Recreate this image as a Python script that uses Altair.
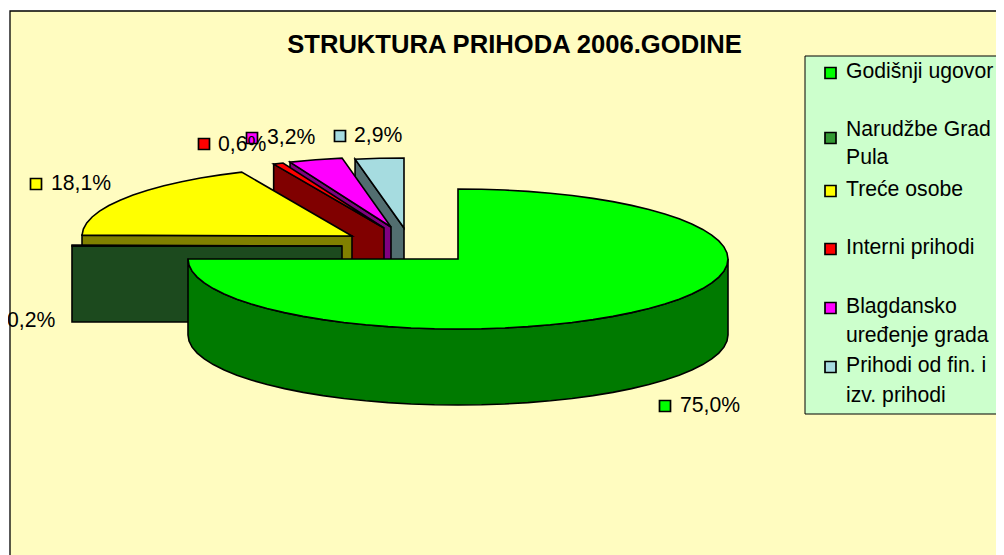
import math
import altair as alt
import pandas as pd

# ---- data ----
CATEGORIES = ["Godišnji ugovor", "Narudžbe Grad Pula", "Treće osobe", "Interni prihodi",
              "Blagdansko uređenje grada", "Prihodi od fin. i izv. prihodi"]
SHARES = [75.0, 0.2, 18.1, 0.6, 3.2, 2.9]
PERCENT_LABELS = ["75,0%", "0,2%", "18,1%", "0,6%", "3,2%", "2,9%"]
TITLE = "STRUKTURA PRIHODA 2006.GODINE"
LEGEND_LINES = [["Godišnji ugovor"], ["Narudžbe Grad", "Pula"], ["Treće osobe"],
                ["Interni prihodi"], ["Blagdansko", "uređenje grada"], ["Prihodi od fin. i", "izv. prihodi"]]

# ---- styles ----
TOP_COLORS = ["#00FF00", "#339933", "#FFFF00", "#FF0000", "#FF00FF", "#A6DCE0"]
SIDE_COLORS = ["#007A00", "#1C4A1E", "#808000", "#800000", "#800080", "#526E70"]
LEGEND_COLORS = TOP_COLORS
PANEL = "#FFFCC0"
LEGEND_BG = "#CCFFCC"
FONT = "Liberation Sans"

# ---- layout (page pixels) ----
W, H = 988, 547
XS = alt.Scale(domain=[8, 996], range=[0, W], nice=False, zero=False)
YS = alt.Scale(domain=[555, 8], range=[H, 0], nice=False, zero=False)
RX, RY, DEPTH = 270, 70, 76
APEX = [(458, 259), (342, 246), (352, 236), (384, 228), (391, 227), (404, 228)]
DRAW_ORDER = [5, 4, 3, 2, 1, 0]
LABEL_MARK = [(665, 406), (-20, 320), (36, 184), (204, 144), (252, 138), (340, 136)]
LABEL_TEXT = [(680, 406), (7, 321), (51, 184), (218, 145), (267, 138), (354, 136)]
LEGEND_MARK_Y = [73, 138, 191, 249, 308, 367]
LEGEND_TEXT_Y = [[72], [130, 158], [190], [248], [307, 336], [366, 396]]


def xy(i, deg, dy=0):
    ax, ay = APEX[i]
    a = math.radians(deg)
    return ax + RX * math.sin(a), ay - RY * math.cos(a) + dy


def arc(i, a0, a1, step=5.0, dy=0):
    n = max(1, int(abs(a1 - a0) / step))
    return [xy(i, a0 + (a1 - a0) * k / n, dy) for k in range(n + 1)]


def poly(points, fill):
    df = pd.DataFrame(points, columns=["x", "y"])
    df["i"] = range(len(df))
    return alt.Chart(df).mark_line(
        fill=fill, stroke="black", strokeWidth=1.6, interpolate="linear-closed", strokeJoin="miter"
    ).encode(
        x=alt.X("x:Q", scale=XS, axis=None),
        y=alt.Y("y:Q", scale=YS, axis=None),
        order="i:Q",
    )


layers = []

panel = pd.DataFrame({"x": [10], "x2": [1020], "y": [11], "y2": [570]})
layers.append(alt.Chart(panel).mark_rect(fill=PANEL, stroke="black", strokeWidth=1.3, clip=True).encode(
    x=alt.X("x:Q", scale=XS, axis=None), x2="x2:Q",
    y=alt.Y("y:Q", scale=YS, axis=None), y2="y2:Q"))

# slice angles come from the shares
starts, acc = [], 0.0
for s in SHARES:
    starts.append(acc)
    acc += s * 3.6

for i in DRAW_ORDER:
    a0, a1 = starts[i], starts[i] + SHARES[i] * 3.6
    ax, ay = APEX[i]
    if i == 0:
        # outer wall of the large slice, facing the viewer
        top = arc(i, 90, 270)
        bottom = arc(i, 90, 270, dy=DEPTH)
        layers.append(poly(top + bottom[::-1], SIDE_COLORS[i]))
    else:
        # cut face that looks towards the viewer
        p0 = xy(i, a0)
        layers.append(poly([p0, (ax, ay), (ax, ay + DEPTH), (p0[0], p0[1] + DEPTH)], SIDE_COLORS[i]))
    layers.append(poly([(ax, ay)] + arc(i, a0, a1), TOP_COLORS[i]))

# legend box
legend_box = pd.DataFrame({"x": [805], "x2": [1020], "y": [56], "y2": [414]})
layers.append(alt.Chart(legend_box).mark_rect(fill=LEGEND_BG, stroke="black", strokeWidth=1, clip=True).encode(
    x=alt.X("x:Q", scale=XS, axis=None), x2="x2:Q",
    y=alt.Y("y:Q", scale=YS, axis=None), y2="y2:Q"))

legend_marks = pd.DataFrame({"x": [830.5] * 6, "y": LEGEND_MARK_Y, "c": LEGEND_COLORS})
layers.append(alt.Chart(legend_marks).mark_point(shape="square", filled=True, size=121, stroke="black",
                                                 strokeWidth=1.7, opacity=1, clip=True).encode(
    x=alt.X("x:Q", scale=XS, axis=None), y=alt.Y("y:Q", scale=YS, axis=None),
    fill=alt.Fill("c:N", scale=None)))

rows = []
for lines, ys in zip(LEGEND_LINES, LEGEND_TEXT_Y):
    for t, y in zip(lines, ys):
        rows.append({"x": 846, "y": y, "t": t})
layers.append(alt.Chart(pd.DataFrame(rows)).mark_text(align="left", baseline="middle", font=FONT, fontSize=21.2,
                                                     color="black").encode(
    x=alt.X("x:Q", scale=XS, axis=None), y=alt.Y("y:Q", scale=YS, axis=None), text="t:N"))

# data labels with their colour keys
label_marks = pd.DataFrame({"x": [p[0] for p in LABEL_MARK], "y": [p[1] for p in LABEL_MARK], "c": TOP_COLORS})
label_marks = label_marks[label_marks.x > 0]
layers.append(alt.Chart(label_marks).mark_point(shape="square", filled=True, size=121, stroke="black",
                                                strokeWidth=1.7, opacity=1).encode(
    x=alt.X("x:Q", scale=XS, axis=None), y=alt.Y("y:Q", scale=YS, axis=None),
    fill=alt.Fill("c:N", scale=None)))
labels = pd.DataFrame({"x": [p[0] for p in LABEL_TEXT], "y": [p[1] for p in LABEL_TEXT], "t": PERCENT_LABELS})
layers.append(alt.Chart(labels).mark_text(align="left", baseline="middle", font=FONT, fontSize=21.2,
                                          color="black").encode(
    x=alt.X("x:Q", scale=XS, axis=None), y=alt.Y("y:Q", scale=YS, axis=None), text="t:N"))

title = pd.DataFrame({"x": [514.5], "y": [45], "t": [TITLE]})
layers.append(alt.Chart(title).mark_text(align="center", baseline="middle", font=FONT, fontSize=25.6,
                                         fontWeight="bold", color="black").encode(
    x=alt.X("x:Q", scale=XS, axis=None), y=alt.Y("y:Q", scale=YS, axis=None), text="t:N"))

chart = alt.layer(*layers).properties(
    width=W, height=H, padding=0, autosize=alt.AutoSizeParams(type="none"), background="white"
).configure_view(stroke=None)

chart.save("out.html", embed_options={"renderer": "svg", "actions": False})
